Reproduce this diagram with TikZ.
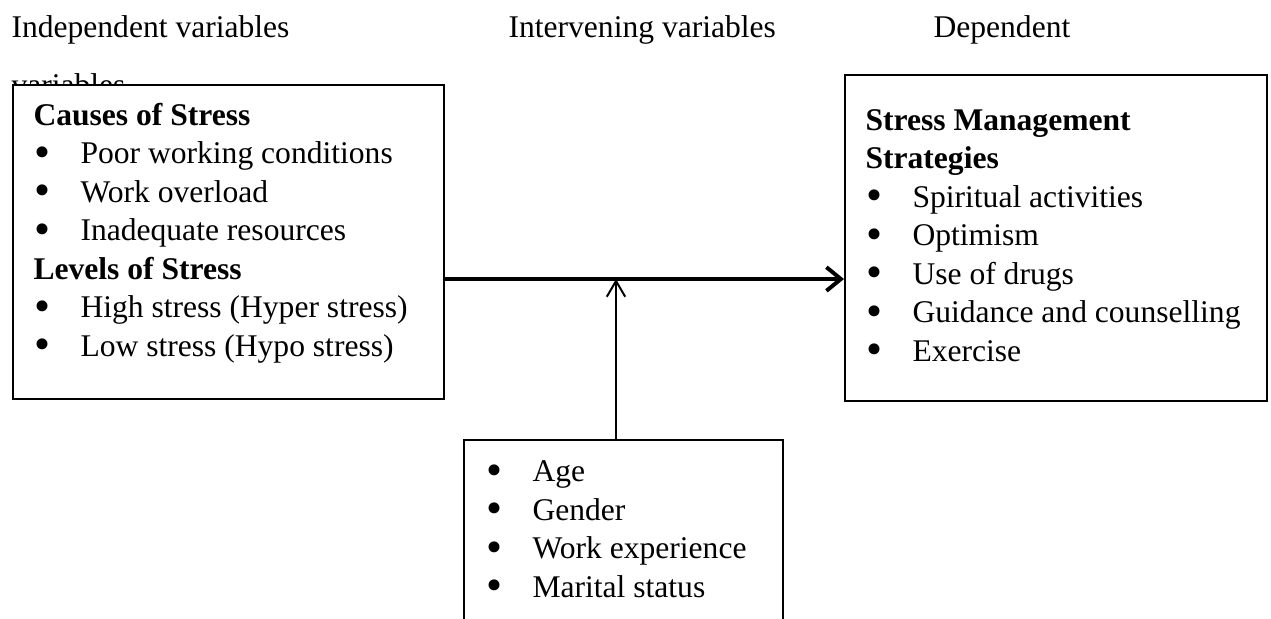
\documentclass[tikz,border=0pt]{standalone}
\usepackage{fontspec}
\setmainfont{Liberation Serif}
\usetikzlibrary{positioning}
\usetikzlibrary{calc}
\usetikzlibrary{arrows.meta}

\newlength\px
\setlength\px{0.38pt}
\newcommand{\itm}[1]{\makebox[46\px][l]{\raisebox{-0.25ex}{\scalebox{1.45}{\textbullet}}}#1}

\begin{document}
\begin{tikzpicture}[x=0.38pt,y=-0.38pt]
\tikzstyle{box} =[rectangle,draw=black,fill=white,line width=0.9pt,anchor=north west,inner sep=0pt]
\tikzstyle{list} =[align=left,anchor=base west,inner sep=0pt,font=\fontsize{12}{14.63}\selectfont]
\tikzstyle{heading} =[anchor=base west,inner sep=0pt,font=\fontsize{12}{14.63}\selectfont]
\useasboundingbox (0,0) rectangle (1271,618);
\clip (0,0) rectangle (1271,618);

% column headings
\node[heading](indep) at (11,37){Independent variables};
\node[heading](indep2) at (11,95){variables};
\node[heading](interv) at (508,37){Intervening variables};
\node[heading](dep) at (933,37){Dependent};

% boxes
\node[box,minimum width=431\px,minimum height=314\px](causes) at (12,84){};
\node[box,minimum width=422\px,minimum height=326\px](strat) at (844,74){};
\node[box,minimum width=319\px,minimum height=260\px](inter) at (463,439){};

% box texts (base = last line)
\node[list](causestxt) at (33,356){\textbf{Causes of Stress}\\
\hspace*{1\px}\itm{Poor working conditions}\\
\hspace*{1\px}\itm{Work overload}\\
\hspace*{1\px}\itm{Inadequate resources}\\
\textbf{Levels of Stress}\\
\hspace*{1\px}\itm{High stress (Hyper stress)}\\
\hspace*{1\px}\itm{Low stress (Hypo stress)}};

\node[list](strattxt) at (865,361){\textbf{Stress Management}\\
\textbf{Strategies}\\
\hspace*{1\px}\itm{Spiritual activities}\\
\hspace*{1\px}\itm{Optimism}\\
\hspace*{1\px}\itm{Use of drugs}\\
\hspace*{1\px}\itm{Guidance and counselling}\\
\hspace*{1\px}\itm{Exercise}};

\node[list](intertxt) at (486,597){\itm{Age}\\
\itm{Gender}\\
\itm{Work experience}\\
\itm{Marital status}};

% connectors
\coordinate (join) at (616,279);
\draw[line width=1.5pt,-{Straight Barb[length=5.5pt,width=9pt]}] (causes.east |- join)--(strat.west |- join);
\draw[line width=0.75pt,-{Straight Barb[length=6pt,width=7pt]}] (join |- inter.north)--(join);
\end{tikzpicture}
\end{document}
